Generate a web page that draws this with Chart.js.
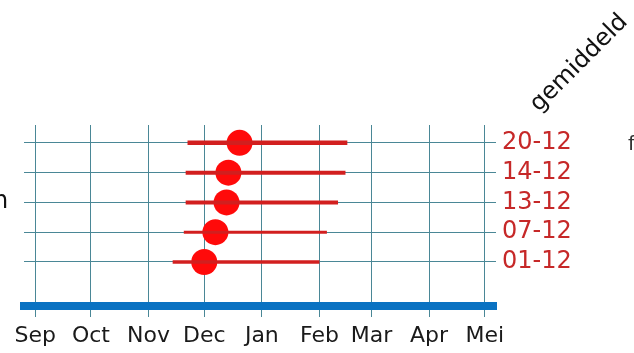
<!DOCTYPE html>
<html>
<head>
<meta charset="utf-8">
<script src="https://cdn.jsdelivr.net/npm/chart.js@4/dist/chart.umd.min.js"></script>
<style>
  html, body { margin: 0; padding: 0; background: #fff; }
  #wrap { position: relative; width: 634px; height: 353px; overflow: hidden; background: #fff; }
  #c { position: absolute; left: 0; top: 0; }
  .txt { position: absolute; font-family: "DejaVu Sans", Verdana, sans-serif; white-space: nowrap; }
  #avg { font-size: 24px; line-height: 24px; color: #111; left: 578px; top: 62px;
         transform: translate(-50%, -50%) rotate(-45deg); }
  #cutL { font-size: 24px; line-height: 24px; color: #111; left: -7px; top: 188px; }
  #cutR { font-size: 20px; line-height: 20px; color: #333; left: 628px; top: 133px; }
</style>
</head>
<body>
<div id="wrap">
  <canvas id="c" width="634" height="353"></canvas>
  <div class="txt" id="avg">gemiddeld</div>
  <div class="txt" id="cutL">n</div>
  <div class="txt" id="cutR">f</div>
</div>
<script>
// Season axis: days counted from 1 September
const monthNames  = ['Sep', 'Oct', 'Nov', 'Dec', 'Jan', 'Feb', 'Mar', 'Apr', 'Mei'];
const monthNums   = [9, 10, 11, 12, 1, 2, 3, 4, 5];
const monthStarts = [0, 30, 61, 91, 122, 153, 181, 212, 242];

// Rows, bottom to top; each label is the average date (DD-MM)
const rowLabels  = ['01-12', '07-12', '13-12', '14-12', '20-12'];
// Spread of each row: first and last date (DD-MM)
const rangeStart = ['14-11', '20-11', '21-11', '21-11', '22-11'];
const rangeEnd   = ['01-02', '05-02', '11-02', '15-02', '16-02'];

const rangeWidths = [3.5, 3, 4, 4, 4.5];

function dayOf(ddmm) {
  const [d, m] = ddmm.split('-').map(Number);
  return monthStarts[monthNums.indexOf(m)] + d - 1;
}

const FONT = '"DejaVu Sans", Verdana, sans-serif';
const GRID = '#4a8796';

const rangeSets = rowLabels.map((lbl, i) => ({
  type: 'line',
  data: [{ x: dayOf(rangeStart[i]), y: i }, { x: dayOf(rangeEnd[i]), y: i }],
  borderColor: '#d21f1f',
  borderWidth: rangeWidths[i],
  borderCapStyle: 'butt',
  pointRadius: 0,
  fill: false
}));

const meanSet = {
  type: 'scatter',
  data: rowLabels.map((lbl, i) => ({ x: dayOf(lbl), y: i })),
  pointRadius: 13,
  pointHoverRadius: 13,
  backgroundColor: '#ff0a0a',
  borderWidth: 0
};

new Chart(document.getElementById('c'), {
  type: 'scatter',
  data: { datasets: [...rangeSets, meanSet] },
  options: {
    responsive: false,
    animation: false,
    devicePixelRatio: 1,
    layout: { padding: { left: 24, top: 125, right: 0, bottom: 0 } },
    plugins: { legend: { display: false }, tooltip: { enabled: false } },
    scales: {
      x: {
        type: 'linear',
        min: -6,
        max: 248,
        afterBuildTicks: s => { s.ticks = monthStarts.map(v => ({ value: v })); },
        afterFit: s => { s.height = 47; },
        grid: { color: GRID, lineWidth: 1, drawTicks: true, tickLength: 11, tickColor: GRID },
        border: { display: true, color: '#0a72c2', width: 8 },
        ticks: {
          autoSkip: false,
          maxRotation: 0,
          padding: 6,
          color: '#1a1a1a',
          font: { family: FONT, size: 22 },
          callback: v => monthNames[monthStarts.indexOf(v)]
        }
      },
      y: {
        type: 'linear',
        position: 'right',
        min: -1.48,
        max: 4.6,
        afterBuildTicks: s => { s.ticks = rowLabels.map((l, i) => ({ value: i })); },
        afterFit: s => { s.width = 138; },
        grid: { color: GRID, lineWidth: 1, drawTicks: false },
        border: { display: false },
        ticks: {
          padding: 6,
          color: '#c62828',
          font: { family: FONT, size: 24 },
          callback: v => rowLabels[v]
        }
      }
    }
  }
});
</script>
</body>
</html>
